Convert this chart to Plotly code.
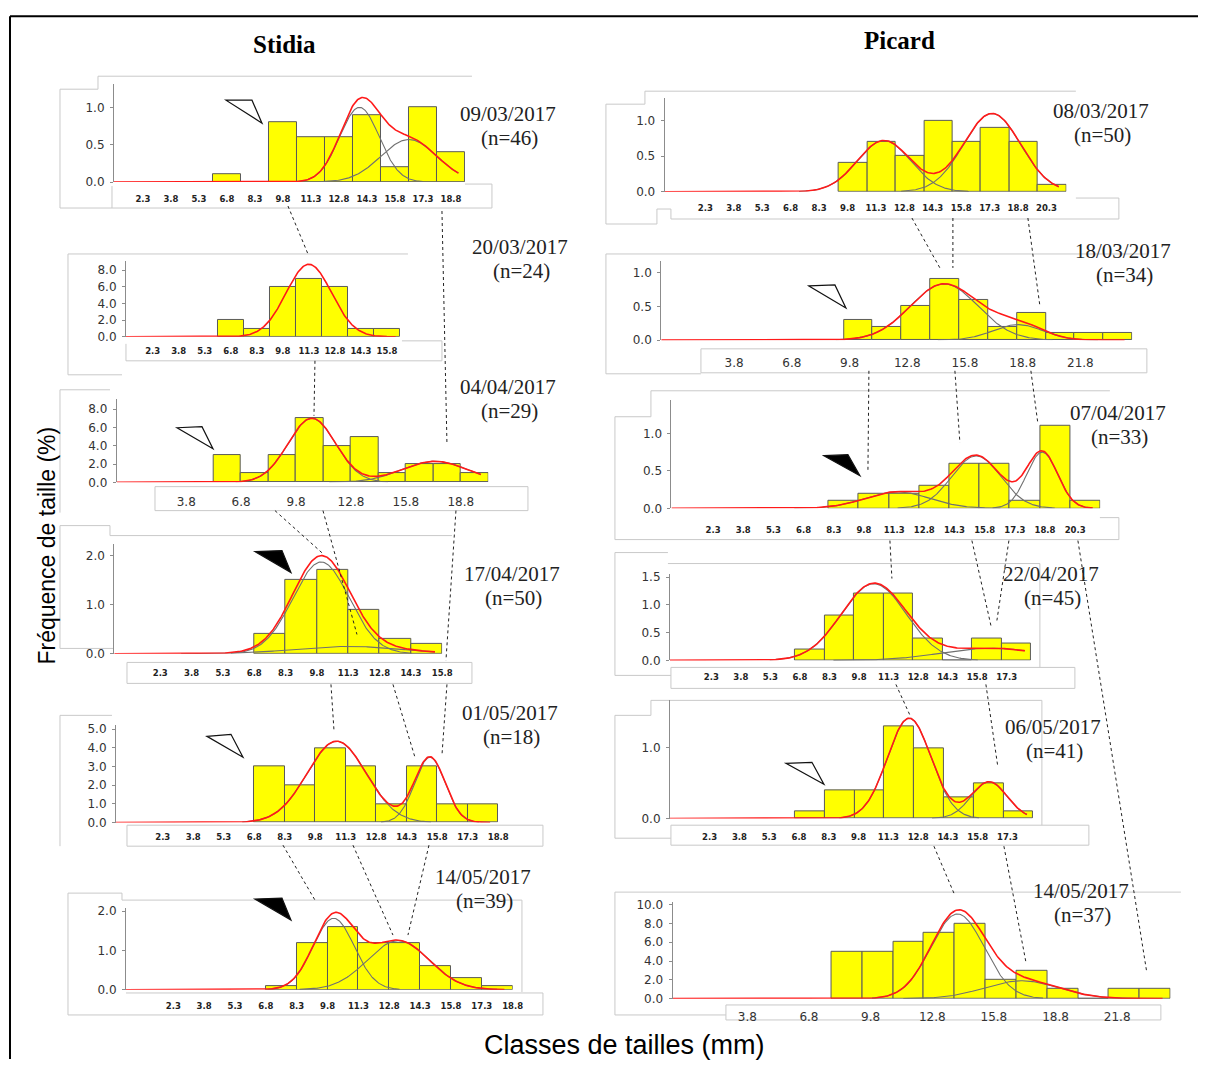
import numpy as np
import plotly.graph_objects as go

W, H = 1209, 1066

# ======================= DATA =======================
# ---- Stidia ----
st1_date, st1_n = "09/03/2017", 46
st1_cls = [6.8, 9.8, 11.3, 12.8, 14.3, 15.8, 17.3, 18.8]          # class midpoints
st1_freq = [0.1, 0.8, 0.6, 0.6, 0.9, 0.2, 1.0, 0.4]
st1_mu, st1_sd, st1_pk = [13.9, 16.55], [1.06, 1.5], [1.0, 0.57]
st1_xt = [2.3, 3.8, 5.3, 6.8, 8.3, 9.8, 11.3, 12.8, 14.3, 15.8, 17.3, 18.8]
st1_yt = [0.0, 0.5, 1.0]

st2_date, st2_n = "20/03/2017", 24
st2_cls = [6.8, 8.3, 9.8, 11.3, 12.8, 14.3, 15.8]                  # class midpoints
st2_freq = [2, 1, 6, 7, 6, 1, 1]
st2_mu, st2_sd, st2_pk = [11.3], [1.31], [8.7]
st2_xt = [2.3, 3.8, 5.3, 6.8, 8.3, 9.8, 11.3, 12.8, 14.3, 15.8]
st2_yt = [0, 2, 4, 6, 8]

st3_date, st3_n = "04/04/2017", 29
st3_cls = [5.3, 6.8, 8.3, 9.8, 11.3, 12.8, 14.3, 15.8, 17.3, 18.8]  # class lower bounds
st3_freq = [3, 1, 3, 7, 4, 5, 1, 2, 2, 1]
st3_mu, st3_sd, st3_pk = [10.66, 17.38], [1.3, 1.8], [7.0, 2.3]
st3_xt = [3.8, 6.8, 9.8, 12.8, 15.8, 18.8]
st3_yt = [0, 2, 4, 6, 8]

st4_date, st4_n = "17/04/2017", 50
st4_cls = [6.8, 8.3, 9.8, 11.3, 12.8, 14.3]                         # class lower bounds
st4_freq = [0.4, 1.5, 1.7, 0.9, 0.3, 0.2]
st4_mu, st4_sd, st4_pk = [10.0, 11.3], [1.35, 2.5], [1.87, 0.15]
st4_xt = [2.3, 3.8, 5.3, 6.8, 8.3, 9.8, 11.3, 12.8, 14.3, 15.8]
st4_yt = [0, 1, 2]

st5_date, st5_n = "01/05/2017", 18
st5_cls = [6.8, 8.3, 9.8, 11.3, 12.8, 14.3, 15.8, 17.3]             # class lower bounds
st5_freq = [3, 2, 4, 3, 1, 3, 1, 1]
st5_mu, st5_sd, st5_pk = [10.85, 15.44], [1.45, 0.75], [4.36, 3.5]
st5_xt = [2.3, 3.8, 5.3, 6.8, 8.3, 9.8, 11.3, 12.8, 14.3, 15.8, 17.3, 18.8]
st5_yt = [0, 1, 2, 3, 4, 5]

st6_date, st6_n = "14/05/2017", 39
st6_cls = [6.8, 8.3, 9.8, 11.3, 12.8, 14.3, 15.8, 17.3]             # class lower bounds
st6_freq = [0.1, 1.2, 1.6, 1.2, 1.2, 0.6, 0.3, 0.1]
st6_mu, st6_sd, st6_pk = [10.1, 13.24], [1.0, 1.5], [1.82, 1.25]
st6_xt = [2.3, 3.8, 5.3, 6.8, 8.3, 9.8, 11.3, 12.8, 14.3, 15.8, 17.3, 18.8]
st6_yt = [0, 1, 2]

# ---- Picard ----
pc1_date, pc1_n = "08/03/2017", 50
pc1_cls = [9.8, 11.3, 12.8, 14.3, 15.8, 17.3, 18.8, 20.3]           # class midpoints
pc1_freq = [0.4, 0.7, 0.5, 1.0, 0.7, 0.9, 0.7, 0.1]
pc1_mu, pc1_sd, pc1_pk = [11.42, 17.13], [1.4, 1.5], [0.72, 1.1]
pc1_xt = [2.3, 3.8, 5.3, 6.8, 8.3, 9.8, 11.3, 12.8, 14.3, 15.8, 17.3, 18.8, 20.3]
pc1_yt = [0.0, 0.5, 1.0]

pc2_date, pc2_n = "18/03/2017", 34
pc2_cls = [9.8, 11.3, 12.8, 14.3, 15.8, 17.3, 18.8, 20.3, 21.8, 23.3]
pc2_freq = [0.3, 0.2, 0.5, 0.9, 0.6, 0.2, 0.4, 0.1, 0.1, 0.1]
pc2_mu, pc2_sd, pc2_pk = [14.27, 18.1], [1.76, 1.3], [0.83, 0.23]
pc2_xt = [3.8, 6.8, 9.8, 12.8, 15.8, 18.8, 21.8]
pc2_yt = [0.0, 0.5, 1.0]

pc3_date, pc3_n = "07/04/2017", 33
pc3_cls = [8.3, 9.8, 11.3, 12.8, 14.3, 15.8, 17.3, 18.8, 20.3]
pc3_freq = [0.1, 0.2, 0.2, 0.3, 0.6, 0.6, 0.1, 1.1, 0.1]
pc3_mu, pc3_sd, pc3_pk = [10.96, 14.88, 18.16], [1.6, 1.22, 0.77], [0.22, 0.7, 0.75]
pc3_xt = [2.3, 3.8, 5.3, 6.8, 8.3, 9.8, 11.3, 12.8, 14.3, 15.8, 17.3, 18.8, 20.3]
pc3_yt = [0.0, 0.5, 1.0]

pc4_date, pc4_n = "22/04/2017", 45
pc4_cls = [6.8, 8.3, 9.8, 11.3, 12.8, 14.3, 15.8, 17.3]
pc4_freq = [0.2, 0.8, 1.2, 1.2, 0.4, 0.0, 0.4, 0.3]
pc4_mu, pc4_sd, pc4_pk = [10.05, 16.0], [1.65, 2.5], [1.38, 0.22]
pc4_xt = [2.3, 3.8, 5.3, 6.8, 8.3, 9.8, 11.3, 12.8, 14.3, 15.8, 17.3]
pc4_yt = [0.0, 0.5, 1.0, 1.5]

pc5_date, pc5_n = "06/05/2017", 41
pc5_cls = [6.8, 8.3, 9.8, 11.3, 12.8, 14.3, 15.8, 17.3]
pc5_freq = [0.1, 0.4, 0.4, 1.3, 1.0, 0.3, 0.5, 0.1]
pc5_mu, pc5_sd, pc5_pk = [11.8, 15.83], [1.1, 0.9], [1.42, 0.52]
pc5_xt = [2.3, 3.8, 5.3, 6.8, 8.3, 9.8, 11.3, 12.8, 14.3, 15.8, 17.3]
pc5_yt = [0.0, 1.0]

pc6_date, pc6_n = "14/05/2017", 37
pc6_cls = [8.3, 9.8, 11.3, 12.8, 14.3, 15.8, 17.3, 18.8, 20.3, 21.8, 23.3]
pc6_freq = [5, 5, 6, 7, 8, 2, 3, 1, 0, 1, 1]
pc6_mu, pc6_sd, pc6_pk = [13.68, 16.8], [1.3, 1.8], [9.0, 1.9]
pc6_xt = [3.8, 6.8, 9.8, 12.8, 15.8, 18.8, 21.8]
pc6_yt = [0, 2, 4, 6, 8, 10]

# ======================= LAYOUT / STYLE (pixels) =======================
# ls = small leftward offset (mm) of the tick labels relative to the bars, as in the source software
panels = [
    dict(d=(st1_date, st1_n, st1_cls, st1_freq, st1_mu, st1_sd, st1_pk, st1_xt, st1_yt),
         axL=114, axR=465, base=181, top=83, xr=[0.75, 19.55], ymax=1.31, off=-0.75,
         red_end=19.2, big=False, sx=10, dx=508, dy=113, ls=0.0),
    dict(d=(st2_date, st2_n, st2_cls, st2_freq, st2_mu, st2_sd, st2_pk, st2_xt, st2_yt),
         axL=126, axR=400, base=336, top=260, xr=[0.76, 16.55], ymax=9.1, off=-0.75,
         red_end=16.3, big=False, sx=8, dx=520, dy=246, ls=0.0),
    dict(d=(st3_date, st3_n, st3_cls, st3_freq, st3_mu, st3_sd, st3_pk, st3_xt, st3_yt),
         axL=116.7, axR=488.3, base=481.7, top=398.3, xr=[0.0, 20.3], ymax=9.1, off=0,
         red_end=19.9, big=True, sx=11, dx=508, dy=386, ls=0.0),
    dict(d=(st4_date, st4_n, st4_cls, st4_freq, st4_mu, st4_sd, st4_pk, st4_xt, st4_yt),
         axL=114.3, axR=442.3, base=653.3, top=543.3, xr=[0.1, 15.8], ymax=2.24, off=0,
         red_end=15.45, big=False, sx=13, dx=512, dy=573, ls=0.0),
    dict(d=(st5_date, st5_n, st5_cls, st5_freq, st5_mu, st5_sd, st5_pk, st5_xt, st5_yt),
         axL=116, axR=498.3, base=822.3, top=725, xr=[0.0, 18.8], ymax=5.21, off=0,
         red_end=18.4, big=False, sx=8, dx=510, dy=713, ls=0.0),
    dict(d=(st6_date, st6_n, st6_cls, st6_freq, st6_mu, st6_sd, st6_pk, st6_xt, st6_yt),
         axL=126, axR=512.7, base=989.7, top=908, xr=[0.0, 18.8], ymax=2.08, off=0,
         red_end=18.4, big=False, sx=10, dx=483, dy=877, ls=0.0),
    dict(d=(pc1_date, pc1_n, pc1_cls, pc1_freq, pc1_mu, pc1_sd, pc1_pk, pc1_xt, pc1_yt),
         axL=664.7, axR=1066.5, base=190.7, top=96.7, xr=[-0.15, 21.05], ymax=1.318, off=-0.75,
         red_end=20.65, big=False, sx=10, dx=1101, dy=110, ls=0.3),
    dict(d=(pc2_date, pc2_n, pc2_cls, pc2_freq, pc2_mu, pc2_sd, pc2_pk, pc2_xt, pc2_yt),
         axL=661.3, axR=1132.4, base=339.3, top=260, xr=[-0.44, 24.05], ymax=1.17, off=-0.75,
         red_end=23.65, big=True, sx=14, dx=1123, dy=250, ls=0.45),
    dict(d=(pc3_date, pc3_n, pc3_cls, pc3_freq, pc3_mu, pc3_sd, pc3_pk, pc3_xt, pc3_yt),
         axL=671.5, axR=1100.4, base=507.7, top=399, xr=[-0.27, 21.05], ymax=1.45, off=-0.75,
         red_end=20.68, big=False, sx=15, dx=1118, dy=412, ls=0.5),
    dict(d=(pc4_date, pc4_n, pc4_cls, pc4_freq, pc4_mu, pc4_sd, pc4_pk, pc4_xt, pc4_yt),
         axL=670, axR=1031.5, base=660, top=573, xr=[-0.3, 18.05], ymax=1.565, off=-0.75,
         red_end=17.72, big=False, sx=10, dx=1051, dy=573, ls=0.5),
    dict(d=(pc5_date, pc5_n, pc5_cls, pc5_freq, pc5_mu, pc5_sd, pc5_pk, pc5_xt, pc5_yt),
         axL=670, axR=1033.4, base=818.3, top=700, xr=[-0.25, 18.05], ymax=1.673, off=-0.75,
         red_end=17.73, big=False, sx=12, dx=1053, dy=727, ls=0.55),
    dict(d=(pc6_date, pc6_n, pc6_cls, pc6_freq, pc6_mu, pc6_sd, pc6_pk, pc6_xt, pc6_yt),
         axL=672.6, axR=1170.7, base=998.7, top=901.7, xr=[-0.19, 24.05], ymax=10.29, off=-0.75,
         red_end=23.66, big=True, sx=9, dx=1081, dy=891, ls=0.35),
]

# pixel -> paper conversion (with a small calibration of the photographed page)
SC, OY = 0.991, 2.7

def PX(x):
    return min(1.0, x / (SC * W))

def PY(y):
    return max(0.0, 1 - (y - OY) / (SC * H))

def mixture(x, mus, sds, pks):
    tot = np.zeros_like(x)
    for m, s, p in zip(mus, sds, pks):
        tot += p * np.exp(-(x - m) ** 2 / (2 * s * s))
    return tot

fig = go.Figure()
layout = {}
annotations = []
shapes = []

for i, p in enumerate(panels, start=1):
    date, n, cls, freq, mus, sds, pks, xt, yt = p["d"]
    xa = "x" if i == 1 else f"x{i}"
    ya = "y" if i == 1 else f"y{i}"
    fig.add_trace(go.Bar(x=cls, y=freq, width=1.5, offset=p["off"],
                         marker=dict(color="#ffff00", line=dict(color="#5a5a5a", width=1)),
                         xaxis=xa, yaxis=ya, showlegend=False, hoverinfo="skip"))
    if len(mus) > 1:
        for m, s, pk in zip(mus, sds, pks):
            lo = max(p["xr"][0], m - 3.2 * s)
            hi = min(p["red_end"], m + 3.2 * s)
            xs = np.linspace(lo, hi, 200)
            fig.add_trace(go.Scatter(x=xs, y=mixture(xs, [m], [s], [pk]), mode="lines",
                                     line=dict(color="#707070", width=1.1),
                                     xaxis=xa, yaxis=ya, showlegend=False,
                                     hoverinfo="skip", cliponaxis=False))
    xs = np.linspace(p["xr"][0], p["red_end"], 400)
    fig.add_trace(go.Scatter(x=xs, y=mixture(xs, mus, sds, pks), mode="lines",
                             line=dict(color="#ff1a1a", width=1.6),
                             xaxis=xa, yaxis=ya, showlegend=False,
                             hoverinfo="skip", cliponaxis=False))

    tfont = (dict(family="DejaVu Sans", size=12, color="#333333") if p["big"]
             else dict(family="DejaVu Sans", size=8.5, color="#222222", weight="bold"))
    layout["xaxis" if i == 1 else f"xaxis{i}"] = dict(
        domain=[PX(p["axL"]), PX(p["axR"])], range=p["xr"], anchor=ya,
        tickmode="array", tickvals=[v - p["ls"] for v in xt], ticktext=[f"{v:.1f}" for v in xt],
        showgrid=False, zeroline=False, showline=False, ticks="",
        tickfont=tfont, ticklabelstandoff=int(p["sx"]), fixedrange=True)
    layout["yaxis" if i == 1 else f"yaxis{i}"] = dict(
        domain=[PY(p["base"]), PY(p["top"])], range=[0, p["ymax"]], anchor=xa,
        tickmode="array", tickvals=yt, ticktext=[f"{v:.1f}" for v in yt],
        showgrid=False, zeroline=False, showline=True, linecolor="#8c8c8c", linewidth=1,
        ticks="outside", ticklen=3, tickcolor="#8c8c8c", ticklabelstandoff=3,
        tickfont=dict(family="DejaVu Sans", size=12, color="#333333"), fixedrange=True)

    annotations.append(dict(x=PX(p["dx"]), y=PY(p["dy"]), xref="paper", yref="paper",
                            text=date, showarrow=False, xanchor="center", yanchor="middle",
                            font=dict(family="Liberation Serif", size=21, color="#222222")))
    annotations.append(dict(x=PX(p["dx"] + 2), y=PY(p["dy"] + 24), xref="paper", yref="paper",
                            text=f"(n={n})", showarrow=False, xanchor="center", yanchor="middle",
                            font=dict(family="Liberation Serif", size=21, color="#222222")))

def path(points, close=False):
    s = "M " + " L ".join(f"{PX(x):.5f},{PY(y):.5f}" for x, y in points)
    return s + (" Z" if close else "")

frames = [
    [(472, 75), (98, 75), (98, 88), (60, 88), (60, 207), (492, 207), (492, 183), (465, 183)],
    [(112, 185), (112, 207)],
    [(408, 253), (68, 253), (68, 374), (122, 374)],
    [(402, 340), (442, 340), (442, 360), (126, 360), (126, 343)],
    [(110, 389), (60, 389), (60, 512)],
    [(155, 486), (528, 486), (528, 510), (155, 510), (155, 486)],
    [(452, 535), (110, 535), (110, 525), (60, 525), (60, 648), (114, 648)],
    [(127, 662), (472, 662), (472, 683), (127, 683), (127, 662)],
    [(112, 715), (60, 715), (60, 846)],
    [(127, 825), (543, 825), (543, 846), (127, 846), (127, 825)],
    [(522, 992), (522, 900), (122, 900), (122, 893), (68, 893), (68, 1015), (126, 1015)],
    [(126, 993), (543, 993), (543, 1015), (126, 1015)],
    [(1076, 90), (645, 90), (645, 103), (606, 103), (606, 223), (657, 223), (657, 208),
     (671, 208), (671, 218), (1119, 218), (1119, 197), (1076, 197)],
    [(1147, 253), (606, 253), (606, 373), (701, 373)],
    [(701, 348), (1147, 348), (1147, 372), (701, 372), (701, 348)],
    [(1110, 390), (651, 390), (651, 416), (615, 416), (615, 539), (1119, 539), (1119, 517), (1100, 517)],
    [(668, 552), (615, 552), (615, 675), (671, 675)],
    [(668, 563), (1040, 563), (1040, 667)],
    [(671, 667), (1075, 667), (1075, 688), (671, 688), (671, 667)],
    [(1042, 825), (1042, 700), (651, 700), (651, 715), (615, 715), (615, 838), (671, 838)],
    [(671, 825), (1089, 825), (1089, 845), (671, 845), (671, 825)],
    [(1181, 892), (615, 892), (615, 1015), (726, 1015)],
    [(726, 1005), (1161, 1005), (1161, 1020), (726, 1020), (726, 1005)],
]
for f in frames:
    shapes.append(dict(type="path", xref="paper", yref="paper", path=path(f),
                       line=dict(color="#c9c9c9", width=1), layer="below"))

links = [
    ((288, 205), (308, 253)), ((442, 210), (447, 443)), ((315, 360), (314, 415)),
    ((275, 510), (324, 554)), ((323, 510), (357, 634)), ((456, 510), (446, 660)),
    ((331, 684), (334, 730)), ((393, 684), (415, 757)), ((447, 684), (442, 755)),
    ((283, 845), (315, 900)), ((353, 845), (393, 935)), ((429, 845), (408, 935)),
    ((912, 217), (940, 267)), ((953, 217), (953, 267)), ((1028, 217), (1040, 305)),
    ((869, 370), (868, 472)), ((955, 370), (960, 442)), ((1031, 370), (1038, 423)),
    ((890, 540), (892, 578)), ((972, 540), (991, 625)), ((1009, 540), (997, 620)),
    ((1078, 540), (1147, 973)),
    ((896, 684), (911, 717)), ((986, 684), (998, 767)),
    ((934, 846), (954, 893)), ((1004, 846), (1026, 962)),
]
for (x0, y0), (x1, y1) in links:
    shapes.append(dict(type="line", xref="paper", yref="paper",
                       x0=PX(x0), y0=PY(y0), x1=PX(x1), y1=PY(y1),
                       line=dict(color="#222222", width=1, dash="3px,3px")))

arrows = [
    ([(226, 99), (252, 99), (262, 122)], False),
    ([(177, 427), (202, 426), (213, 448)], False),
    ([(255, 551), (282, 550), (291, 572)], True),
    ([(207, 736), (231, 734), (243, 757)], False),
    ([(255, 899), (282, 898), (291, 920)], True),
    ([(809, 285), (835, 284), (846, 307)], False),
    ([(824, 455), (848, 454), (860, 475)], True),
    ([(786, 763), (812, 762), (824, 784)], False),
]
for pts, filled in arrows:
    shapes.append(dict(type="path", xref="paper", yref="paper", path=path(pts, close=True),
                       line=dict(color="#111111", width=1.2),
                       fillcolor="#000000" if filled else "#ffffff", layer="above"))

shapes.append(dict(type="line", xref="paper", yref="paper", x0=PX(10), y0=PY(15), x1=1.0, y1=PY(15),
                   line=dict(color="#000000", width=2)))
shapes.append(dict(type="line", xref="paper", yref="paper", x0=PX(10), y0=PY(15), x1=PX(10), y1=0.0,
                   line=dict(color="#000000", width=2)))

annotations += [
    dict(x=PX(285), y=PY(43), xref="paper", yref="paper", text="<b>Stidia</b>", showarrow=False,
         xanchor="center", yanchor="middle",
         font=dict(family="Liberation Serif", size=25, color="#000000")),
    dict(x=PX(900), y=PY(39), xref="paper", yref="paper", text="<b>Picard</b>", showarrow=False,
         xanchor="center", yanchor="middle",
         font=dict(family="Liberation Serif", size=25, color="#000000")),
    dict(x=PX(47), y=PY(545), xref="paper", yref="paper", text="Fréquence de taille (%)",
         showarrow=False, textangle=-90, xanchor="center", yanchor="middle",
         font=dict(family="Liberation Sans", size=23, color="#000000")),
    dict(x=PX(625), y=PY(1045), xref="paper", yref="paper", text="Classes de tailles (mm)",
         showarrow=False, xanchor="center", yanchor="middle",
         font=dict(family="Liberation Sans", size=27, color="#000000")),
]

fig.update_layout(width=W, height=H, autosize=False, margin=dict(l=0, r=0, t=0, b=0),
                  paper_bgcolor="white", plot_bgcolor="rgba(0,0,0,0)", bargap=0,
                  showlegend=False, shapes=shapes, annotations=annotations, **layout)

fig.write_html(
    "out.html",
    config={"displayModeBar": False, "responsive": False},
    post_script=("document.documentElement.style.margin='0px';"
                 "document.documentElement.style.overflow='hidden';"
                 "document.body.style.margin='0px';"
                 "document.body.style.overflow='hidden';"),
)
